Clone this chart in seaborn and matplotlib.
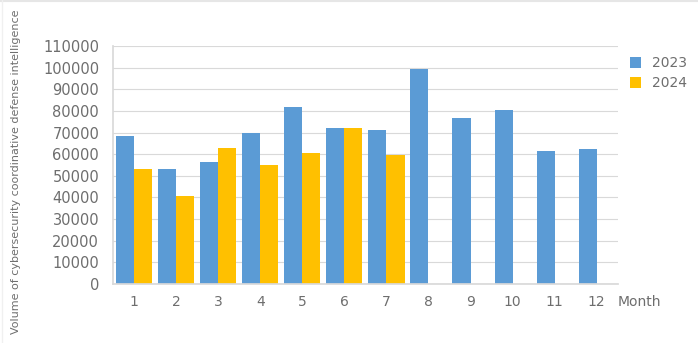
import matplotlib
matplotlib.use("Agg")
import matplotlib.pyplot as plt
from matplotlib.lines import Line2D
import seaborn as sns
import numpy as np
import pandas as pd

months = [str(m) for m in range(1, 13)]
values_2023 = [68200, 53200, 56600, 69700, 82000, 72200, 71000, 99300, 76800, 80300, 61400, 62600]
values_2024 = [53200, 40500, 62900, 54800, 60600, 72000, 59800, np.nan, np.nan, np.nan, np.nan, np.nan]
years = ["2023", "2024"]
yticks = list(range(0, 110001, 10000))

df = pd.DataFrame({
    "Month": months * 2,
    "Value": values_2023 + values_2024,
    "Year": [years[0]] * 12 + [years[1]] * 12,
})

sns.set_theme(style="white")
plt.rcParams['font.family'] = ['DejaVu Sans']

fig = plt.figure(figsize=(6.98, 3.43), dpi=100)
ax = fig.add_axes([0.162, 0.172, 0.723, 0.694])

sns.barplot(data=df, x="Month", y="Value", hue="Year", order=months,
            hue_order=years, palette=["#5B9BD5", "#FFC000"], width=0.86,
            saturation=1, linewidth=0, ax=ax, legend=True)

ax.set_ylim(0, 110000)
ax.set_yticks(yticks)
ax.set_yticklabels([str(v) for v in yticks], color="#6E6E6E", fontsize=10.5)
ax.set_xticks(range(12))
ax.set_xticklabels(months, color="#6E6E6E", fontsize=10)
ax.set_xlim(-0.5, 11.5)
ax.yaxis.grid(True, color="#D9D9D9", linewidth=0.8)
ax.set_axisbelow(True)
for s in ["top", "right"]:
    ax.spines[s].set_visible(False)
ax.spines["left"].set_color("#D9D9D9")
ax.spines["bottom"].set_color("#D9D9D9")
ax.tick_params(axis="y", length=4, color="#D9D9D9", pad=6)
ax.tick_params(axis="x", length=0, pad=8)

ax.set_xlabel("")
ax.set_ylabel("Volume of cybersecurity coordinative defense intelligence",
              fontsize=8, color="#6E6E6E")
ax.yaxis.set_label_coords(-0.182, 0.47)

fig.text(0.885, 0.12, "Month", fontsize=10, color="#6E6E6E", ha="left", va="center")

handles, labels = ax.get_legend_handles_labels()
ax.legend(handles, labels, loc="upper left", bbox_to_anchor=(1.0, 1.01),
          frameon=False, fontsize=10, labelcolor="#6E6E6E",
          handlelength=0.8, handleheight=0.8, handletextpad=0.8, labelspacing=0.45)

# faint frame at top and left edges of the image
fig.add_artist(Line2D([0, 1], [0.997, 0.997], transform=fig.transFigure, color="#E6E6E6", linewidth=1.5))
fig.add_artist(Line2D([0.003, 0.003], [0, 1], transform=fig.transFigure, color="#F0F0F0", linewidth=1.0))

fig.savefig("out.png", dpi=100, facecolor="white")
